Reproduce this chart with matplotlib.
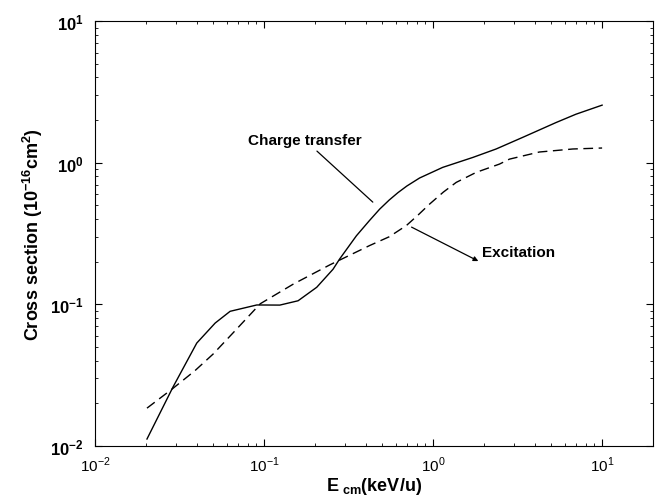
import numpy as np
import matplotlib
matplotlib.use("Agg")
import matplotlib.pyplot as plt

plt.rcParams["font.family"] = ["Liberation Sans", "DejaVu Sans"]
plt.rcParams["mathtext.fontset"] = "custom"
plt.rcParams["mathtext.rm"] = "Liberation Sans"
plt.rcParams["mathtext.bf"] = "Liberation Sans:bold"

# charge transfer (solid)
ct_e = [0.0203, 0.0289, 0.040, 0.0514, 0.063, 0.0906, 0.124, 0.159, 0.205, 0.256,
        0.28, 0.352, 0.42, 0.483, 0.55, 0.62, 0.70, 0.832, 1.14, 1.72, 2.36, 3.39,
        5.33, 7.0, 10.0]
ct_s = [0.0112, 0.026, 0.0533, 0.0738, 0.0893, 0.099, 0.0988, 0.106, 0.132, 0.177,
        0.209, 0.305, 0.39, 0.47, 0.545, 0.615, 0.685, 0.78, 0.927, 1.09, 1.25, 1.51,
        1.92, 2.20, 2.55]

# excitation (dashed)
ex_e = [0.0203, 0.0289, 0.039, 0.050, 0.066, 0.095, 0.149, 0.245, 0.421, 0.55,
        0.695, 0.82, 0.953, 1.15, 1.37, 1.80, 2.47, 2.83, 4.25, 6.7, 10.0]
ex_s = [0.0185, 0.0255, 0.034, 0.0446, 0.0634, 0.101, 0.139, 0.19, 0.26, 0.30,
        0.36, 0.43, 0.51, 0.62, 0.726, 0.855, 0.978, 1.06, 1.19, 1.25, 1.27]

fig = plt.figure(figsize=(6.57, 5.02), dpi=100)
ax = fig.add_axes([0.1446, 0.1096, 0.8493, 0.8464])

ax.plot(ct_e, ct_s, "k-", lw=1.0)
ax.plot(ex_e, ex_s, "k--", lw=1.0, dashes=(7, 4))

ax.set_xscale("log")
ax.set_yscale("log")
ax.set_xlim(0.01, 20)
ax.set_ylim(0.01, 10)

ax.tick_params(which="both", direction="in", top=True, right=True)
ax.tick_params(which="major", length=5, width=0.8)
ax.tick_params(which="minor", length=2, width=0.6)
ax.tick_params(axis="x", labelsize=11, pad=6)
ax.tick_params(axis="y", labelsize=12, pad=8)
ax.set_yticks([0.01, 0.1, 1, 10])
ax.set_yticklabels([r"$\mathbf{10^{-2}}$", r"$\mathbf{10^{-1}}$",
                    r"$\mathbf{10^{0}}$", r"$\mathbf{10^{1}}$"])
ax.set_xticks([0.01, 0.1, 1, 10])
ax.set_xticklabels([r"$10^{-2}$", r"$10^{-1}$", r"$10^{0}$", r"$10^{1}$"])

ax.set_xlabel(r"E$_{\mathbf{\ cm}}$(keV/u)", fontsize=13, fontweight="bold", labelpad=1)
ax.set_ylabel(r"Cross section (10$^{\mathbf{-16}}$cm$^{\mathbf{2}}$)", fontsize=13,
              fontweight="bold", labelpad=4)

# Charge transfer label with plain leader line
ax.text(0.1746, 1.444, "Charge transfer", fontsize=11, fontweight="bold",
        ha="center", va="center")
ax.annotate("", xy=(0.44, 0.527), xytext=(0.2056, 1.208),
            arrowprops=dict(arrowstyle="-", lw=0.9, color="k", shrinkA=0, shrinkB=0))

# Excitation label with arrow
ax.annotate("", xy=(1.853, 0.202), xytext=(0.746, 0.351),
            arrowprops=dict(arrowstyle="-|>", lw=0.9, color="k", mutation_scale=7,
                            shrinkA=0, shrinkB=0))
ax.text(1.96, 0.234, "Excitation", fontsize=11, fontweight="bold", ha="left", va="center")

fig.savefig("out.png", dpi=100)
